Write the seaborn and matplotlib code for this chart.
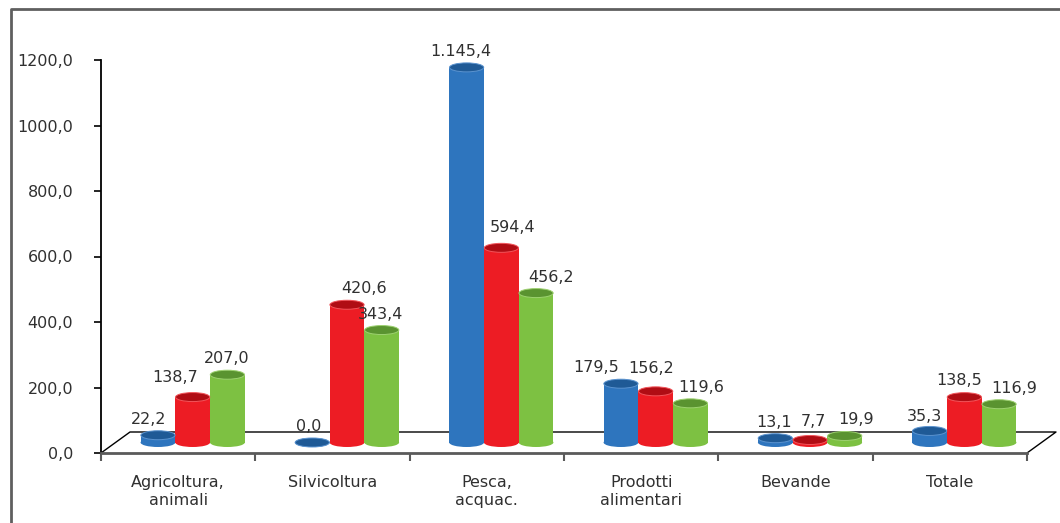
import matplotlib
matplotlib.use("Agg")
import matplotlib.pyplot as plt
from matplotlib.patches import Ellipse
from matplotlib.lines import Line2D
from matplotlib.transforms import ScaledTranslation
import seaborn as sns
import pandas as pd

# ---------------- data ----------------
categories = ["Agricoltura,\nanimali", "Silvicoltura", "Pesca,\nacquac.",
              "Prodotti\nalimentari", "Bevande", "Totale"]
series_names = ["Serie 1", "Serie 2", "Serie 3"]
serie_1 = [22.2, 0.0, 1145.4, 179.5, 13.1, 35.3]
serie_2 = [138.7, 420.6, 594.4, 156.2, 7.7, 138.5]
serie_3 = [207.0, 343.4, 456.2, 119.6, 19.9, 116.9]
y_ticks = [0, 200, 400, 600, 800, 1000, 1200]

# ---------------- styles ----------------
body_colors = ["#2E75BE", "#ED1C24", "#7DC142"]
cap_colors = ["#1F5A96", "#B00D14", "#5A9330"]
rim_colors = ["#5B93CF", "#F2555B", "#9DD170"]
# small label nudges (pixels) to mimic the original label placement
label_nudge_x = [[-9, -4, -6, -25, -1, -5],
                 [-18, 17, 11, -5, 3, -5],
                 [-1, -1, 15, 11, 11, 15]]
label_nudge_y = [[0, 0, 0, 0, 0, -2],
                 [4, 0, 4, 7, 2, 1],
                 [0, 0, 0, 0, 0, 0]]

rows = []
for name, vals in zip(series_names, [serie_1, serie_2, serie_3]):
    for c, v in zip(categories, vals):
        rows.append({"Categoria": c, "Serie": name, "Valore": v})
df = pd.DataFrame(rows)


def fmt_it(v):
    s = f"{v:,.1f}"
    return s.replace(",", "X").replace(".", ",").replace("X", ".")


def fmt_tick(v):
    return f"{v:.1f}".replace(".", ",")


sns.set_style("white")
plt.rcParams["font.family"] = ["DejaVu Sans"]
TXT = "#303030"
FS = 11.5

DPI = 100
fig = plt.figure(figsize=(10.6, 5.23), dpi=DPI)
W, H = 1060, 523
ax = fig.add_axes([101 / W, 70 / H, 926 / W, 393 / H])

sns.barplot(data=df, x="Categoria", y="Valore", hue="Serie",
            palette=body_colors, width=0.675, saturation=1,
            errorbar=None, legend=False, ax=ax, zorder=3)

ax.set_xlim(-0.5, len(categories) - 0.5)
ax.set_ylim(0, 1200)

# 3D depth: full depth (29px, 21px); bars sit at mid-depth
depth_dx, depth_dy = 29, 21
px_per_x = 926 / len(categories)
px_per_y = 393 / 1200
shift = ax.transData + ScaledTranslation(depth_dx / 2 / DPI, depth_dy / 2 / DPI,
                                         fig.dpi_scale_trans)
cap_h = 9 / px_per_y  # cap ellipse height in data units

for si, cont in enumerate(ax.containers):
    for ci, rect in enumerate(cont.patches):
        x0 = rect.get_x()
        w = rect.get_width()
        h = rect.get_height()
        xc = x0 + w / 2
        rect.set_transform(shift)
        rect.set_linewidth(0)
        rect.set_zorder(3 + si * 0.01)
        bottom = Ellipse((xc, 0), w, cap_h, facecolor=body_colors[si],
                         edgecolor="none", transform=shift, zorder=2.9,
                         clip_on=False)
        ax.add_patch(bottom)
        top = Ellipse((xc, h), w * 0.985, cap_h, facecolor=cap_colors[si],
                      edgecolor=rim_colors[si], linewidth=0.7,
                      transform=shift, zorder=4, clip_on=False)
        ax.add_patch(top)
        ltrans = ax.transData + ScaledTranslation(
            (depth_dx / 2 + label_nudge_x[si][ci]) / DPI,
            (depth_dy / 2 + 4.5 + 7 + label_nudge_y[si][ci]) / DPI,
            fig.dpi_scale_trans)
        ax.text(xc, h, fmt_it(h), transform=ltrans, ha="center",
                va="baseline", fontsize=FS, color=TXT, clip_on=False,
                zorder=5)

# floor lines (back edge and sides)
n = len(categories)
ddx = depth_dx / px_per_x
ddy = depth_dy / px_per_y
ax.plot([-0.5, -0.5 + ddx, n - 0.5 + ddx, n - 0.5],
        [0, ddy, ddy, 0], color="black", lw=1, zorder=1, clip_on=False)

# axes styling
for s in ["top", "right"]:
    ax.spines[s].set_visible(False)
ax.spines["left"].set_color("black")
ax.spines["left"].set_linewidth(1.3)
ax.spines["bottom"].set_color("#5a5a5a")
ax.spines["bottom"].set_linewidth(2)

ax.set_yticks(y_ticks)
ax.set_yticklabels([fmt_tick(v) for v in y_ticks])
ax.tick_params(axis="y", direction="out", length=5, width=1.2, color="black",
               pad=15, labelsize=FS, labelcolor=TXT, left=True)
ax.set_xticks(range(n))
ax.set_xticklabels(categories)
ax.set_xticks([i - 0.5 for i in range(n + 1)], minor=True)
ax.tick_params(axis="x", which="major", length=0, pad=16, labelsize=FS,
               labelcolor=TXT)
ax.tick_params(axis="x", which="minor", direction="out", length=6, width=1.5,
               color="#5a5a5a", bottom=True)
ax.set_xlabel("")
ax.set_ylabel("")
ax.grid(False)

# outer frame (top and left edges visible)
fig.add_artist(Line2D([10.5 / W, 10.5 / W, 1.0], [0.0, 1 - 8.5 / H, 1 - 8.5 / H],
                      transform=fig.transFigure, color="#5f5f5f", lw=2))

fig.savefig("out.png", dpi=DPI)
